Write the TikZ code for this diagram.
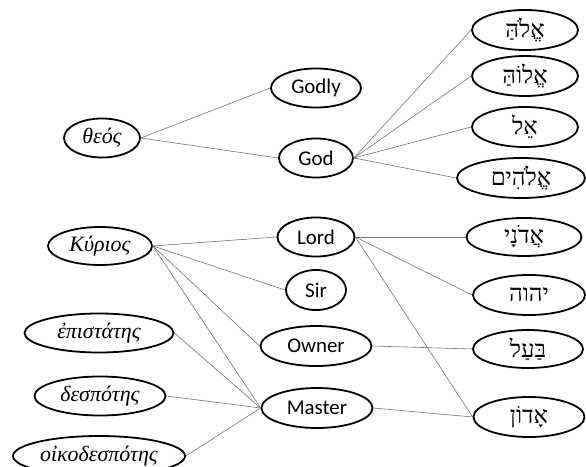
\documentclass[tikz,border=0pt]{standalone}
\usepackage{fontspec}
\setmainfont{Liberation Serif}
\newfontfamily\engfont{Carlito}
\newfontfamily\hebfont[Script=Hebrew]{Liberation Serif}
\usetikzlibrary{shapes.geometric}
\TeXXeTstate=1
\begin{document}
\begin{tikzpicture}[x=1bp,y=-1bp,
  ell/.style={ellipse,draw=black,line width=1.8pt,inner sep=0pt},
  gr/.style={ell,font=\itshape\fontsize{22}{24}\selectfont},
  en/.style={ell,font=\engfont\fontsize{21}{23}\selectfont},
  he/.style={ell,font=\hebfont\fontsize{24}{26}\selectfont},
  link/.style={draw=black!55,line width=0.6pt}]
\useasboundingbox (0,0) rectangle (586,467);
% Greek
\node[gr,minimum width=76bp,minimum height=39bp] (theos) at (102,138) {θεός};
\node[gr,minimum width=104bp,minimum height=38bp] (kyrios) at (100,246) {Κύριος};
\node[gr,minimum width=149bp,minimum height=39bp] (epist) at (99,333) {ἐπιστάτης};
\node[gr,minimum width=131bp,minimum height=39bp] (desp) at (100,396) {δεσπότης};
\node[gr,minimum width=172bp,minimum height=40bp] (oiko) at (99,456) {οἰκοδεσπότης};
% English
\node[en,minimum width=90bp,minimum height=39bp] (godly) at (316,88) {Godly};
\node[en,minimum width=74bp,minimum height=39bp] (god) at (316,158) {God};
\node[en,minimum width=77bp,minimum height=39bp] (lord) at (316,237) {Lord};
\node[en,minimum width=60bp,minimum height=40bp] (sir) at (316,290) {Sir};
\node[en,minimum width=111bp,minimum height=40bp] (owner) at (316,346) {Owner};
\node[en,minimum width=111bp,minimum height=40bp] (master) at (317,408) {Master};
% Hebrew
\node[he,minimum width=106bp,minimum height=40bp] (h1) at (525,30) {\beginR אֱלֹהַּ\endR};
\node[he,minimum width=106bp,minimum height=40bp] (h2) at (525,76) {\beginR אֱלוֹהַּ\endR};
\node[he,minimum width=106bp,minimum height=40bp] (h3) at (525,127) {\beginR אֵל\endR};
\node[he,minimum width=128bp,minimum height=40bp] (h4) at (521,178) {\beginR אֱלֹהִים\endR};
\node[he,minimum width=115bp,minimum height=38bp] (h5) at (524,237) {\beginR אֲדֹנָי\endR};
\node[he,minimum width=112bp,minimum height=40bp] (h6) at (529,295) {\beginR יהוה\endR};
\node[he,minimum width=110bp,minimum height=38bp] (h7) at (528,349) {\beginR בַּעַל\endR};
\node[he,minimum width=111bp,minimum height=40bp] (h8) at (529,417) {\beginR אָדוֹן\endR};
% connectors
\draw[link] (theos.east) -- (godly.west);
\draw[link] (theos.east) -- (god.west);
\foreach \t in {h1,h2,h3,h4} \draw[link] (god.east) -- (\t.west);
\foreach \t in {lord,sir,owner,master} \draw[link] (kyrios.east) -- (\t.west);
\foreach \s in {epist,desp,oiko} \draw[link] (\s.east) -- (master.west);
\draw[link] (lord.east) -- (h5.west);
\draw[link] (lord.east) -- (h6.west);
\draw[link] (lord.east) -- (h8.west);
\draw[link] (owner.east) -- (h7.west);
\draw[link] (master.east) -- (h8.west);
\end{tikzpicture}
\end{document}
